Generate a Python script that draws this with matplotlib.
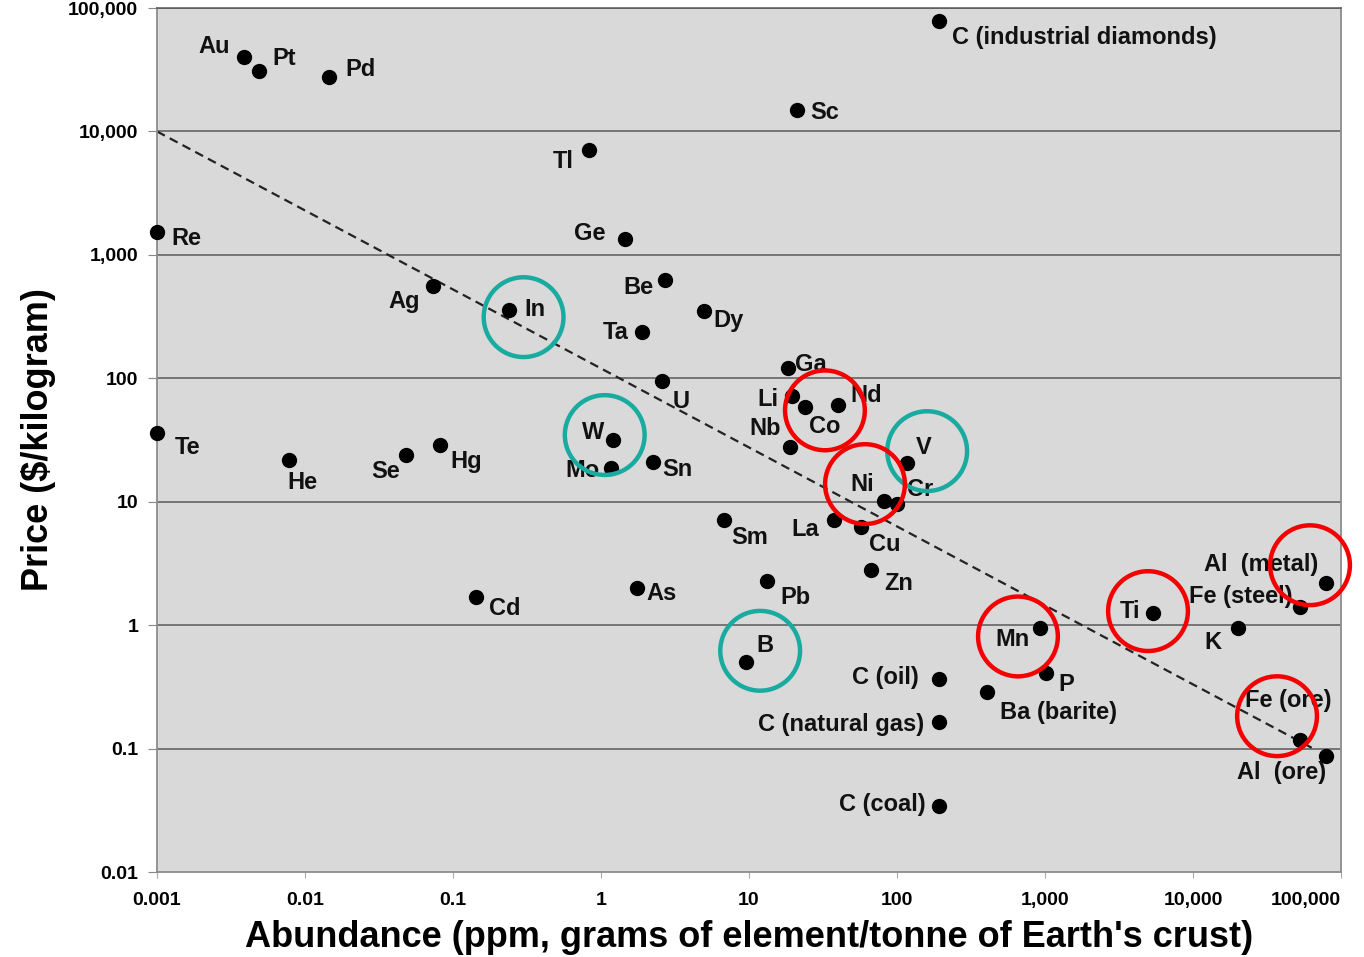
import matplotlib
matplotlib.use("Agg")
import matplotlib.pyplot as plt

plt.rcParams['font.family'] = ['Liberation Sans', 'DejaVu Sans']
plt.rcParams['font.weight'] = 'bold'

# element labels, abundance (ppm) and price ($/kg)
names = ['Au', 'Pt', 'Pd', 'C (industrial diamonds)', 'Sc', 'Tl', 'Re', 'Ge',
         'Ag', 'In', 'Be', 'Dy', 'Ta', 'Ga', 'U', 'Li', 'Co', 'Nd', 'Nb', 'W',
         'Mo', 'Sn', 'V', 'Ni', 'Cr', 'Te', 'He', 'Se', 'Hg', 'Sm', 'La', 'Cu',
         'Zn', 'Pb', 'As', 'Cd', 'B', 'Mn', 'P', 'Ba (barite)', 'C (oil)',
         'C (natural gas)', 'C (coal)', 'Ti', 'K', 'Fe (steel)', 'Al  (metal)',
         'Fe (ore)', 'Al  (ore)']
abundance = [0.0039, 0.0049, 0.0145, 192, 21, 0.83, 0.001, 1.45,
             0.073, 0.24, 2.7, 5.0, 1.9, 18.4, 2.6, 19.5, 23.9, 40, 18.9, 1.2,
             1.16, 2.25, 117, 82, 100, 0.001, 0.0078, 0.048, 0.082, 6.8, 37.5, 57,
             67, 13.2, 1.75, 0.143, 9.5, 925, 1016, 405, 192,
             192, 192, 5370, 20000, 52800, 79000,
             52800, 79000]
price = [40000, 31000, 27800, 79000, 15000, 7100, 1540, 1350,
         560, 360, 630, 350, 238, 121, 95, 72, 59, 61, 27.8, 31.7,
         18.8, 21, 20.5, 10.1, 9.6, 36, 21.8, 24, 29, 7.1, 7.1, 6.3,
         2.8, 2.3, 2.0, 1.7, 0.5, 0.95, 0.41, 0.29, 0.365,
         0.164, 0.034, 1.25, 0.95, 1.4, 2.2,
         0.117, 0.087]

# trend line end points
trend_x = [0.001, 65000]
trend_y = [10000, 0.1]

# highlight circles (centres)
teal_x = [0.30, 1.06, 160, 11.9]
teal_y = [313, 34.7, 25.7, 0.62]
red_x = [32.6, 60.8, 657, 4970, 61800, 37000]
red_y = [55, 13.9, 0.81, 1.3, 3.06, 0.183]

xticks = [0.001, 0.01, 0.1, 1, 10, 100, 1000, 10000, 100000]
xtick_labels = ['0.001', '0.01', '0.1', '1', '10', '100', '1,000', '10,000', '100,000']
yticks = [0.01, 0.1, 1, 10, 100, 1000, 10000, 100000]
ytick_labels = ['0.01', '0.1', '1', '10', '100', '1,000', '10,000', '100,000']

# label placement: (dx, dy) in pixels, horizontal alignment
label_pos = {
    'Au': (-30, 11, 'center'), 'Pt': (25, 12, 'center'), 'Pd': (32, 7, 'center'),
    'C (industrial diamonds)': (13, -17, 'left'), 'Sc': (28, -3, 'center'),
    'Tl': (-26, -12, 'center'), 'Re': (29, -7, 'center'), 'Ge': (-35, 5, 'center'),
    'Ag': (-29, -16, 'center'), 'In': (26, 0, 'center'), 'Be': (-26, -8, 'center'),
    'Dy': (24, -9, 'center'), 'Ta': (-27, -1, 'center'), 'Ga': (23, 4, 'center'),
    'U': (19, -20, 'center'), 'Li': (-24, -4, 'center'), 'Co': (20, -20, 'center'),
    'Nd': (28, 9, 'center'), 'Nb': (-25, 18, 'center'), 'W': (-20, 7, 'center'),
    'Mo': (-28, -3, 'center'), 'Sn': (24, -8, 'center'), 'V': (17, 16, 'center'),
    'Ni': (-22, 17, 'center'), 'Cr': (23, 14, 'center'), 'Te': (31, -14, 'center'),
    'He': (13, -23, 'center'), 'Se': (-20, -17, 'center'), 'Hg': (26, -17, 'center'),
    'Sm': (26, -17, 'center'), 'La': (-29, -9, 'center'), 'Cu': (24, -18, 'center'),
    'Zn': (27, -14, 'center'), 'Pb': (29, -17, 'center'), 'As': (25, -5, 'center'),
    'Cd': (29, -12, 'center'), 'B': (19, 17, 'center'), 'Mn': (-27, -12, 'center'),
    'P': (20, -12, 'center'), 'Ba (barite)': (13, -21, 'left'),
    'C (oil)': (-20, 2, 'right'), 'C (natural gas)': (-15, -2, 'right'),
    'C (coal)': (-13, 2, 'right'), 'Ti': (-23, 2, 'center'), 'K': (-25, -15, 'center'),
    'Fe (steel)': (-7, 11, 'right'), 'Al  (metal)': (-8, 18, 'right'),
    'Fe (ore)': (-12, 40, 'center'), 'Al  (ore)': (-44, -16, 'center'),
}

fig = plt.figure(figsize=(13.64, 9.57), dpi=100)
ax = fig.add_axes([0.1151, 0.0888, 0.8680, 0.9028])
ax.set_facecolor('#d9d9d9')
ax.set_xscale('log')
ax.set_yscale('log')
ax.set_xlim(0.001, 100000)
ax.set_ylim(0.01, 100000)

for v in yticks[1:]:
    ax.axhline(v, color='#5a5a5a', lw=1.1, zorder=1)

ax.plot(trend_x, trend_y, color='#222222', lw=1.6, ls=(0, (4, 2.5)), zorder=2)

ax.scatter(abundance, price, s=100, color='black', zorder=3, clip_on=False)

for n, x, y in zip(names, abundance, price):
    dx, dy, ha = label_pos[n]
    ax.annotate(n, (x, y), xytext=(dx, dy), textcoords='offset pixels',
                ha=ha, va='center', fontsize=17, fontweight='bold',
                color='#111111', zorder=4)

ax.scatter(teal_x, teal_y, s=3300, facecolors='none', edgecolors='#19aaa0',
           linewidths=3.2, zorder=5, clip_on=False)
ax.scatter(red_x, red_y, s=3300, facecolors='none', edgecolors='#f40000',
           linewidths=3.2, zorder=5, clip_on=False)

ax.set_xticks(xticks)
ax.set_xticklabels(xtick_labels)
ax.set_yticks(yticks)
ax.set_yticklabels(ytick_labels)
ax.minorticks_off()
ax.get_xticklabels()[-1].set_ha('right')
ax.tick_params(axis='x', length=4.5, color='#aaaaaa', pad=10, labelsize=14)
ax.tick_params(axis='y', length=6.5, color='#888888', pad=7, labelsize=14)

for side in ['left', 'right', 'bottom']:
    ax.spines[side].set_color('#8c8c8c')
    ax.spines[side].set_linewidth(1.3)
ax.spines['top'].set_color('#5a5a5a')
ax.spines['top'].set_linewidth(1.1)

ax.set_xlabel("Abundance (ppm, grams of element/tonne of Earth's crust)",
              fontsize=26, fontweight='bold', labelpad=8)
ax.set_ylabel('Price ($/kilogram)', fontsize=26, fontweight='bold', labelpad=9)

fig.savefig('out.png', dpi=100)
